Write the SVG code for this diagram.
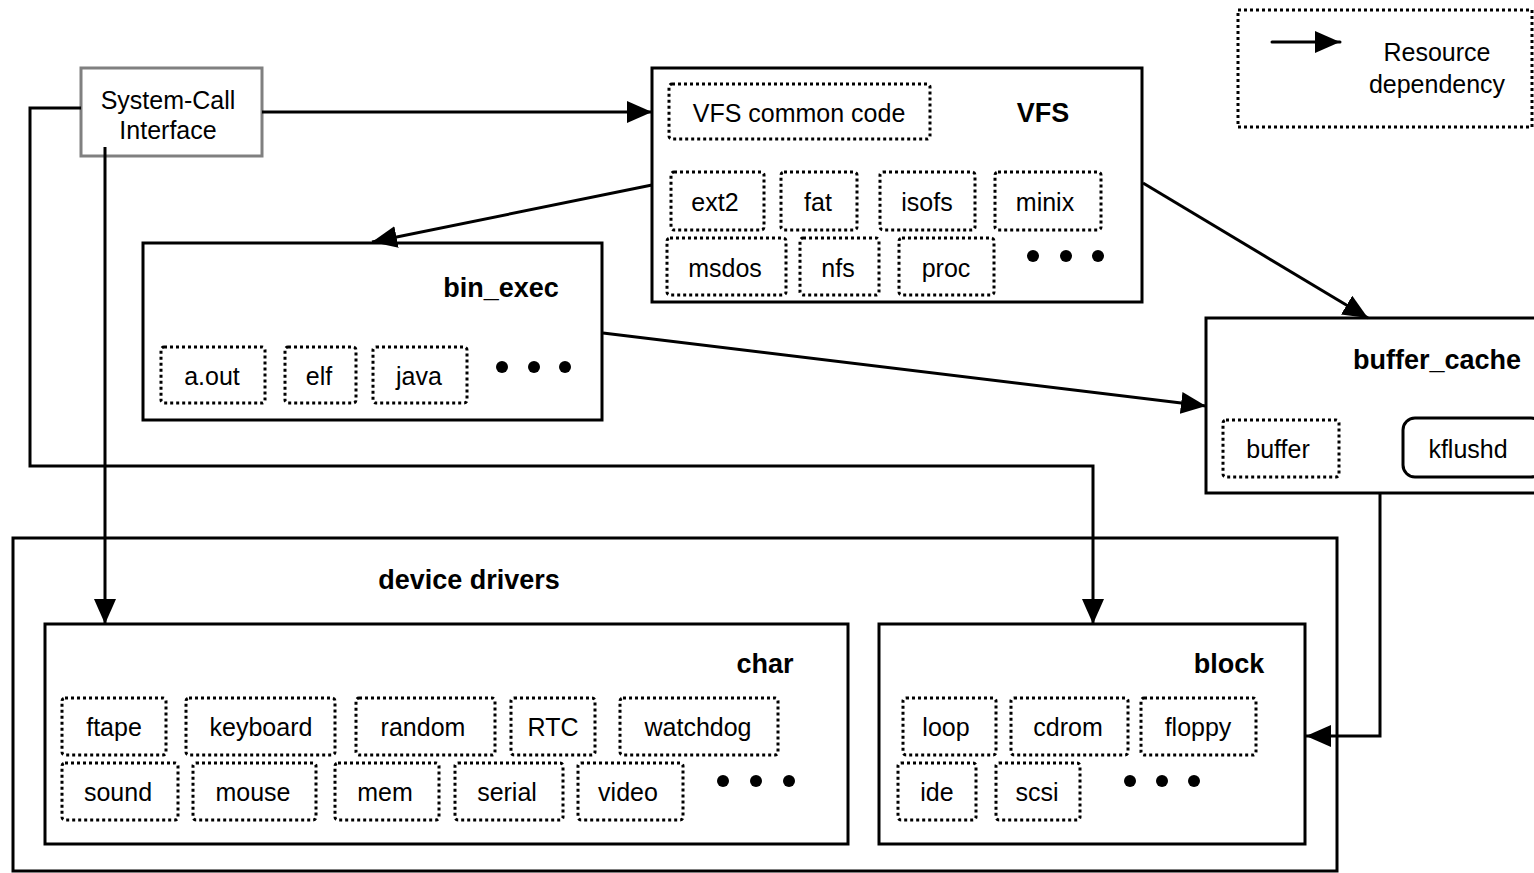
<svg xmlns="http://www.w3.org/2000/svg" width="1534" height="873" viewBox="0 0 1534 873">
  <style>
    .box { fill: #fff; stroke: #000; stroke-width: 3; }
    .sub { fill: none; stroke: #000; stroke-width: 3; stroke-dasharray: 3 3; }
    .solid { fill: none; stroke: #000; stroke-width: 3; }
    .txt { font-family: "Liberation Sans", Arial, sans-serif; font-size: 25px; fill: #000; text-anchor: middle; }
    .ttl { font-family: "Liberation Sans", Arial, sans-serif; font-size: 27px; font-weight: bold; fill: #000; text-anchor: middle; }
    .edge { fill: none; stroke: #000; stroke-width: 3; marker-end: url(#arrow); }
    .dot { fill: #000; }
  </style>
  <defs>
    <marker id="arrow" markerUnits="userSpaceOnUse" markerWidth="26" markerHeight="22" refX="25" refY="11" orient="auto">
      <path d="M0,0 L25,11 L0,22 z" fill="#000"/>
    </marker>
  </defs>
  <rect width="1534" height="873" fill="#fff"/>

  <!-- legend -->
  <g id="legend">
    <rect class="sub" x="1238" y="10" width="294" height="117"/>
    <line x1="1272" y1="42" x2="1340" y2="42" stroke="#000" stroke-width="3" stroke-linecap="round" marker-end="url(#arrow)"/>
    <text class="txt" x="1437" y="61">Resource</text>
    <text class="txt" x="1437" y="93">dependency</text>
  </g>

  <!-- device drivers container -->
  <g id="device_drivers">
    <rect class="box" x="13" y="538" width="1324" height="333"/>
    <text class="ttl" x="469" y="589">device drivers</text>
  </g>

  <!-- char drivers -->
  <g id="char">
    <rect class="box" x="45" y="624" width="803" height="220"/>
    <text class="ttl" x="765" y="673">char</text>
    <rect class="sub" x="62" y="698" width="104" height="57" rx="3"/><text class="txt" x="114" y="736">ftape</text>
    <rect class="sub" x="186" y="698" width="149" height="57" rx="3"/><text class="txt" x="261" y="736">keyboard</text>
    <rect class="sub" x="356" y="698" width="139" height="57" rx="3"/><text class="txt" x="423" y="736">random</text>
    <rect class="sub" x="511" y="698" width="84" height="57" rx="3"/><text class="txt" x="553" y="736">RTC</text>
    <rect class="sub" x="620" y="698" width="158" height="57" rx="3"/><text class="txt" x="698" y="736">watchdog</text>
    <rect class="sub" x="62" y="763" width="116" height="57" rx="3"/><text class="txt" x="118" y="801">sound</text>
    <rect class="sub" x="193" y="763" width="123" height="57" rx="3"/><text class="txt" x="253" y="801">mouse</text>
    <rect class="sub" x="335" y="763" width="104" height="57" rx="3"/><text class="txt" x="385" y="801">mem</text>
    <rect class="sub" x="455" y="763" width="108" height="57" rx="3"/><text class="txt" x="507" y="801">serial</text>
    <rect class="sub" x="578" y="763" width="105" height="57" rx="3"/><text class="txt" x="628" y="801">video</text>
    <circle class="dot" cx="723" cy="781" r="6"/><circle class="dot" cx="756" cy="781" r="6"/><circle class="dot" cx="789" cy="781" r="6"/>
  </g>

  <!-- block drivers -->
  <g id="block">
    <rect class="box" x="879" y="624" width="426" height="220"/>
    <text class="ttl" x="1229" y="673">block</text>
    <rect class="sub" x="903" y="698" width="93" height="57" rx="3"/><text class="txt" x="946" y="736">loop</text>
    <rect class="sub" x="1011" y="698" width="117" height="57" rx="3"/><text class="txt" x="1068" y="736">cdrom</text>
    <rect class="sub" x="1141" y="698" width="115" height="57" rx="3"/><text class="txt" x="1198" y="736">floppy</text>
    <rect class="sub" x="898" y="763" width="78" height="57" rx="3"/><text class="txt" x="937" y="801">ide</text>
    <rect class="sub" x="996" y="763" width="84" height="57" rx="3"/><text class="txt" x="1037" y="801">scsi</text>
    <circle class="dot" cx="1130" cy="781" r="6"/><circle class="dot" cx="1162" cy="781" r="6"/><circle class="dot" cx="1194" cy="781" r="6"/>
  </g>

  <!-- system call interface -->
  <g id="syscall">
    <rect x="81" y="68" width="181" height="88" fill="#fff" stroke="#808080" stroke-width="3"/>
    <text class="txt" x="168" y="109">System-Call</text>
    <text class="txt" x="168" y="139">Interface</text>
  </g>

  <!-- virtual file system -->
  <g id="vfs">
    <rect class="box" x="652" y="68" width="490" height="234"/>
    <text class="ttl" x="1043" y="122">VFS</text>
    <rect class="sub" x="669" y="84" width="261" height="55" rx="3"/><text class="txt" x="799" y="122">VFS common code</text>
    <rect class="sub" x="671" y="172" width="93" height="58" rx="3"/><text class="txt" x="715" y="211">ext2</text>
    <rect class="sub" x="781" y="172" width="76" height="58" rx="3"/><text class="txt" x="818" y="211">fat</text>
    <rect class="sub" x="880" y="172" width="95" height="58" rx="3"/><text class="txt" x="927" y="211">isofs</text>
    <rect class="sub" x="995" y="172" width="106" height="58" rx="3"/><text class="txt" x="1045" y="211">minix</text>
    <rect class="sub" x="667" y="238" width="119" height="57" rx="3"/><text class="txt" x="725" y="277">msdos</text>
    <rect class="sub" x="800" y="238" width="79" height="57" rx="3"/><text class="txt" x="838" y="277">nfs</text>
    <rect class="sub" x="899" y="238" width="95" height="57" rx="3"/><text class="txt" x="946" y="277">proc</text>
    <circle class="dot" cx="1033" cy="256" r="6"/><circle class="dot" cx="1066" cy="256" r="6"/><circle class="dot" cx="1098" cy="256" r="6"/>
  </g>

  <!-- binary executable loaders -->
  <g id="bin_exec">
    <rect class="box" x="143" y="243" width="459" height="177"/>
    <text class="ttl" x="501" y="297">bin_exec</text>
    <rect class="sub" x="161" y="347" width="104" height="56" rx="3"/><text class="txt" x="212" y="385">a.out</text>
    <rect class="sub" x="285" y="347" width="71" height="56" rx="3"/><text class="txt" x="319" y="385">elf</text>
    <rect class="sub" x="373" y="347" width="94" height="56" rx="3"/><text class="txt" x="419" y="385">java</text>
    <circle class="dot" cx="502" cy="367" r="6"/><circle class="dot" cx="534" cy="367" r="6"/><circle class="dot" cx="565" cy="367" r="6"/>
  </g>

  <!-- buffer cache -->
  <g id="buffer_cache">
    <rect class="box" x="1206" y="318" width="340" height="175"/>
    <text class="ttl" x="1437" y="369">buffer_cache</text>
    <rect class="sub" x="1223" y="420" width="116" height="57" rx="3"/><text class="txt" x="1278" y="458">buffer</text>
    <rect class="solid" x="1403" y="418" width="140" height="59" rx="12"/><text class="txt" x="1468" y="458">kflushd</text>
  </g>

  <!-- resource dependencies -->
  <g id="connectors">
    <path class="edge" d="M262,112 H652"/>
    <path class="edge" d="M81,108 H30 V466 H1093 V624"/>
    <path class="edge" d="M105,147 V624"/>
    <path class="edge" d="M652,185 L372,242"/>
    <path class="edge" d="M1143,183 L1368,318"/>
    <path class="edge" d="M603,333 L1206,406"/>
    <path class="edge" d="M1380,494 V736 H1306"/>
  </g>
</svg>
